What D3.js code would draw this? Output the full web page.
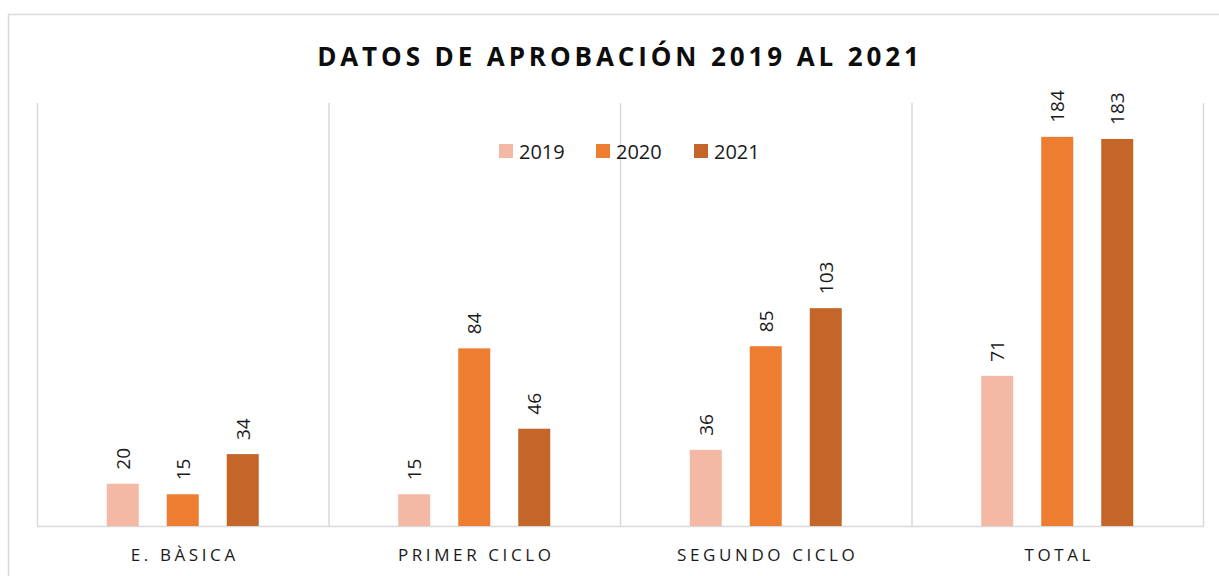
<!DOCTYPE html>
<html><head><meta charset="utf-8">
<script src="https://cdn.jsdelivr.net/npm/d3@7"></script>
<style>body{margin:0;background:#fff;}svg{display:block;}</style>
</head><body>
<svg id="c" width="1219" height="576"></svg>
<script>
const categories = ["E. BÀSICA", "PRIMER CICLO", "SEGUNDO CICLO", "TOTAL"];
const seriesNames = ["2019", "2020", "2021"];
const values2019 = [20, 15, 36, 71];
const values2020 = [15, 84, 85, 184];
const values2021 = [34, 46, 103, 183];
const colors = ["#F4B9A5", "#ED7D31", "#C4652A"];
const title = "DATOS DE APROBACIÓN 2019 AL 2021";

const series = [values2019, values2020, values2021];
const svg = d3.select("#c");
const font = "'Open Sans', 'Noto Sans', sans-serif";
const m = {left: 37, right: 1203, top: 103, bottom: 526};

svg.append("rect").attr("x", 8.5).attr("y", 14.5).attr("width", 1230).attr("height", 600)
  .attr("fill", "#fff").attr("stroke", "#d9d9d9").attr("stroke-width", 1.5);

const x = d3.scaleBand().domain(categories).range([m.left, m.right]).paddingInner(0).paddingOuter(0);
const y = d3.scaleLinear().domain([0, 200]).range([m.bottom, m.top]);

// vertical gridlines at category boundaries
const edges = categories.map(c => x(c)).concat([x(categories[categories.length-1]) + x.bandwidth()]);
svg.append("g").selectAll("line").data(edges).join("line")
  .attr("x1", d => d + 0.5).attr("x2", d => d + 0.5)
  .attr("y1", m.top).attr("y2", m.bottom)
  .attr("stroke", "#d9d9d9").attr("stroke-width", 1.5);

// baseline
svg.append("line").attr("x1", m.left).attr("x2", m.right + 1)
  .attr("y1", m.bottom + 0.5).attr("y2", m.bottom + 0.5)
  .attr("stroke", "#d9d9d9").attr("stroke-width", 1.5);

// bars
const data = [];
categories.forEach((c, i) => seriesNames.forEach((s, j) => data.push({c, s, j, v: series[j][i]})));
const bw = 32;
const bx = d => x(d.c) + x.bandwidth()/2 + (d.j - 1) * 60 - bw/2;
svg.append("g").selectAll("rect").data(data).join("rect")
  .attr("x", bx).attr("width", bw)
  .attr("y", d => y(d.v)).attr("height", d => y(0) - y(d.v))
  .attr("fill", d => colors[d.j]);

// value labels
svg.append("g").selectAll("text").data(data).join("text")
  .attr("transform", d => `translate(${bx(d) + bw/2 + 7},${y(d.v) - 14}) rotate(-90)`)
  .attr("font-family", font).attr("font-size", 19).attr("fill", "#1a1a1a")
  .attr("text-anchor", "start")
  .text(d => d.v);

// category labels
svg.append("g").selectAll("text").data(categories).join("text")
  .attr("x", c => x(c) + x.bandwidth()/2 + 2).attr("y", 561)
  .attr("text-anchor", "middle").attr("font-family", font).attr("font-size", 17)
  .attr("letter-spacing", "3.6px").attr("fill", "#1a1a1a")
  .text(c => c);

// title
svg.append("text").attr("x", 620).attr("y", 66).attr("text-anchor", "middle")
  .attr("font-family", font).attr("font-size", 26).attr("font-weight", "bold")
  .attr("letter-spacing", "3.9px").attr("fill", "#0d0d0d").text(title);

// legend
const legX = [499, 596, 694];
const lg = svg.append("g").selectAll("g").data(seriesNames).join("g")
  .attr("transform", (d, i) => `translate(${legX[i]},144)`);
lg.append("rect").attr("width", 14).attr("height", 14).attr("fill", (d, i) => colors[i]);
lg.append("text").attr("x", 20).attr("y", 15).attr("font-family", font).attr("font-size", 20)
  .attr("fill", "#1a1a1a").text(d => d);
</script>
</body></html>
